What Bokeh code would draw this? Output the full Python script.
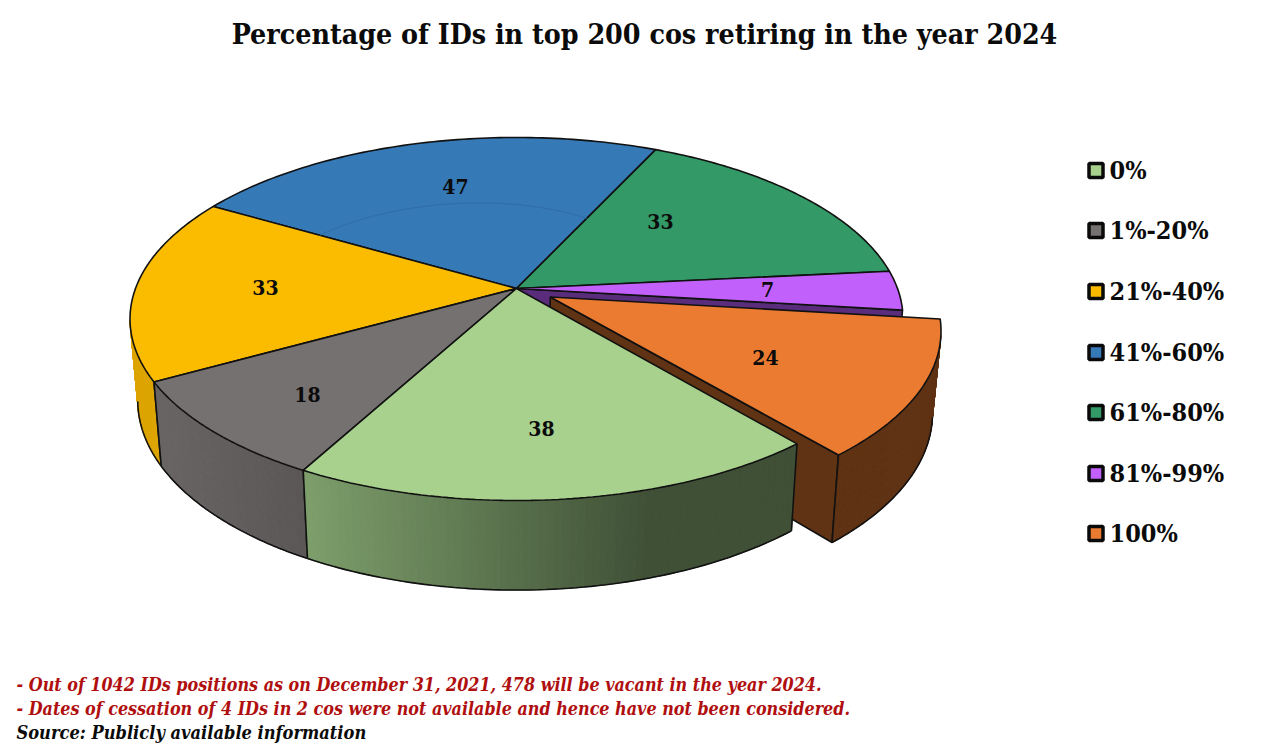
import numpy as np
from bokeh.plotting import figure
from bokeh.models import Range1d
from bokeh.core.properties import value
from bokeh.embed import file_html
from bokeh.resources import INLINE

# ---- data ----
categories = ["0%", "1%-20%", "21%-40%", "41%-60%", "61%-80%", "81%-99%", "100%"]
counts = [38, 18, 33, 47, 33, 7, 24]
colors = ["#A9D18E", "#767171", "#FBBC00", "#3579B6", "#339966", "#C160FA", "#EB7B30"]
title = "Percentage of IDs in top 200 cos retiring in the year 2024"
notes = ["- Out of 1042 IDs positions as on December 31, 2021, 478 will be vacant in the year 2024.",
         "- Dates of cessation of 4 IDs in 2 cos were not available and hence have not been considered."]
source = "Source: Publicly available information"

# ---- layout ----
CX, CY = 516.0, 288.0
R, RS, K = 381.0, 176.4, 0.168
START = 50.1
EXPLODE = {6: 0.10}
label_xy = [(541, 428), (307, 394), (265, 287), (455, 186), (660, 221), (767, 289), (765, 357)]
legend_y = [170, 230, 291, 352, 412, 473, 533]
SERIF = "DejaVu Serif Condensed"
OUT = "#111111"
LW = 1.6

total = sum(counts)
edges = START + np.concatenate([[0], np.cumsum(counts)]) * 360.0 / total


def top(t_deg, r=1.0, off=0.0, mid=0.0):
    t = np.radians(t_deg)
    m = np.radians(mid)
    c = r * np.cos(t) + off * np.cos(m)
    s = r * np.sin(t) + off * np.sin(m)
    d = 1 - K * s
    return R * c / d, RS * s / d


def scr_top(dx, dy):
    return CX + dx, CY + dy


def scr_bot(dx, dy):
    return CX + 0.98 * dx, CY + 1.045 * dy + 80


def arc(i, n=80):
    return np.linspace(edges[i], edges[i + 1], n)


p = figure(width=1280, height=752, output_backend="svg", toolbar_location=None,
           x_range=Range1d(0, 1280), y_range=Range1d(752, 0), min_border=0,
           outline_line_color=None, background_fill_color="white")
p.axis.visible = False
p.grid.visible = False


def lerp_hex(a, b, f):
    a = np.array([int(a[j:j + 2], 16) for j in (1, 3, 5)], float)
    b = np.array([int(b[j:j + 2], 16) for j in (1, 3, 5)], float)
    v = a + (b - a) * f
    return "#%02x%02x%02x" % tuple(int(round(q)) for q in v)


def side(t0, t1, shade, off=0.0, mid=0.0, n=70, edge0=True, edge1=True):
    """Outer wall between two disc angles, filled as thin vertical strips."""
    ts = np.linspace(t0, t1, n + 1)
    dx, dy = top(ts, 1.0, off, mid)
    tx, ty = scr_top(dx, dy)
    bx, by = scr_bot(dx, dy)
    xs, ys, cs = [], [], []
    for j in range(n):
        xs.append([tx[j], tx[j + 1], bx[j + 1], bx[j]])
        ys.append([ty[j], ty[j + 1], by[j + 1], by[j]])
        cs.append(shade(0.5 * (tx[j] + tx[j + 1])))
    p.patches(xs, ys, fill_color=cs, line_color=cs, line_width=1)
    p.line(bx, by, line_color=OUT, line_width=LW)
    if edge0:
        p.line([tx[0], bx[0]], [ty[0], by[0]], line_color=OUT, line_width=LW)
    if edge1:
        p.line([tx[-1], bx[-1]], [ty[-1], by[-1]], line_color=OUT, line_width=LW)


def wall(t, col, off=0.0, mid=0.0):
    """Radial wall from the apex to the rim at disc angle t."""
    ax, ay = top(0.0, 0.0, off, mid)
    rx, ry = top(t, 1.0, off, mid)
    t0x, t0y = scr_top(ax, ay)
    t1x, t1y = scr_top(rx, ry)
    b0x, b0y = scr_bot(ax, ay)
    b1x, b1y = scr_bot(rx, ry)
    p.patch([t0x, t1x, b1x, b0x], [t0y, t1y, b1y, b0y], fill_color=col,
            line_color=OUT, line_width=LW)


def face(i, off=0.0):
    mid = 0.5 * (edges[i] + edges[i + 1])
    ts = arc(i)
    dx, dy = top(ts, 1.0, off, mid)
    ax, ay = top(0.0, 0.0, off, mid)
    x, y = scr_top(np.r_[ax, dx], np.r_[ay, dy])
    p.patch(x, y, fill_color=colors[i], line_color=OUT, line_width=LW)


def green_shade(x):
    f = np.clip((x - 305) / (650 - 305), 0, 1)
    return lerp_hex("#7D9E6B", "#3F5036", f)


def gray_shade(x):
    f = np.clip((x - 160) / (310 - 160), 0, 1)
    return lerp_hex("#686464", "#5A5656", f)


def yellow_shade(x):
    return "#DDA502"


def orange_shade(x):
    return "#5F3213"


# back walls first: the far end of each stops at the silhouette of the rim
side(edges[2], 170.0, yellow_shade, edge1=False)
side(edges[1], edges[2], gray_shade)

# purple inner wall, visible in the gap
wall(edges[6] % 360, "#5A2D7C")

# exploded slice (its wall starts at the right-hand silhouette of the rim)
mid6 = 0.5 * (edges[6] + edges[7])
wall(edges[7] % 360, "#5F3313", EXPLODE[6], mid6)
side(edges[6] + 5.0, edges[7], orange_shade, EXPLODE[6], mid6, edge0=False)

# near wall of the first slice
side(edges[0], edges[1], green_shade)

# top faces
for i in [3, 4, 5, 2, 1, 6, 0]:
    face(i, EXPLODE.get(i, 0.0))

# faint seam on the blue slice
sx, sy = scr_top(*top(np.linspace(edges[3], edges[4], 60), np.linspace(0.63, 0.47, 60)))
p.line(sx, sy, line_color="#2F6DA6", line_width=1)

# data labels
p.text([q[0] for q in label_xy], [q[1] for q in label_xy], text=[str(v) for v in counts],
       text_font=value(SERIF), text_font_style="bold", text_font_size="21px",
       text_color="#0B0B0B", text_align="center", text_baseline="middle")

# legend
lx = [1095.5] * len(categories)
p.scatter(lx, legend_y, marker="square", size=14, fill_color=colors, line_color="#0A0A0A", line_width=3.5)
p.text([1109] * len(categories), legend_y, text=categories, text_font=value(SERIF),
       text_font_style="bold", text_font_size="25px", text_color="#0B0B0B",
       text_align="left", text_baseline="middle")

# title and notes
p.text([644], [33], text=[title], text_font=value(SERIF), text_font_style="bold",
       text_font_size="28.3px", text_color="#0B0B0B", text_align="center", text_baseline="middle")
p.text([16, 16], [684, 708], text=notes, text_font=value(SERIF), text_font_style="bold italic",
       text_font_size="17.8px", text_color="#B00F0F", text_align="left", text_baseline="middle")
p.text([16], [732], text=[source], text_font=value(SERIF), text_font_style="bold italic",
       text_font_size="18.1px", text_color="#0B0B0B", text_align="left", text_baseline="middle")

open("out.html", "w").write(file_html(p, INLINE))
